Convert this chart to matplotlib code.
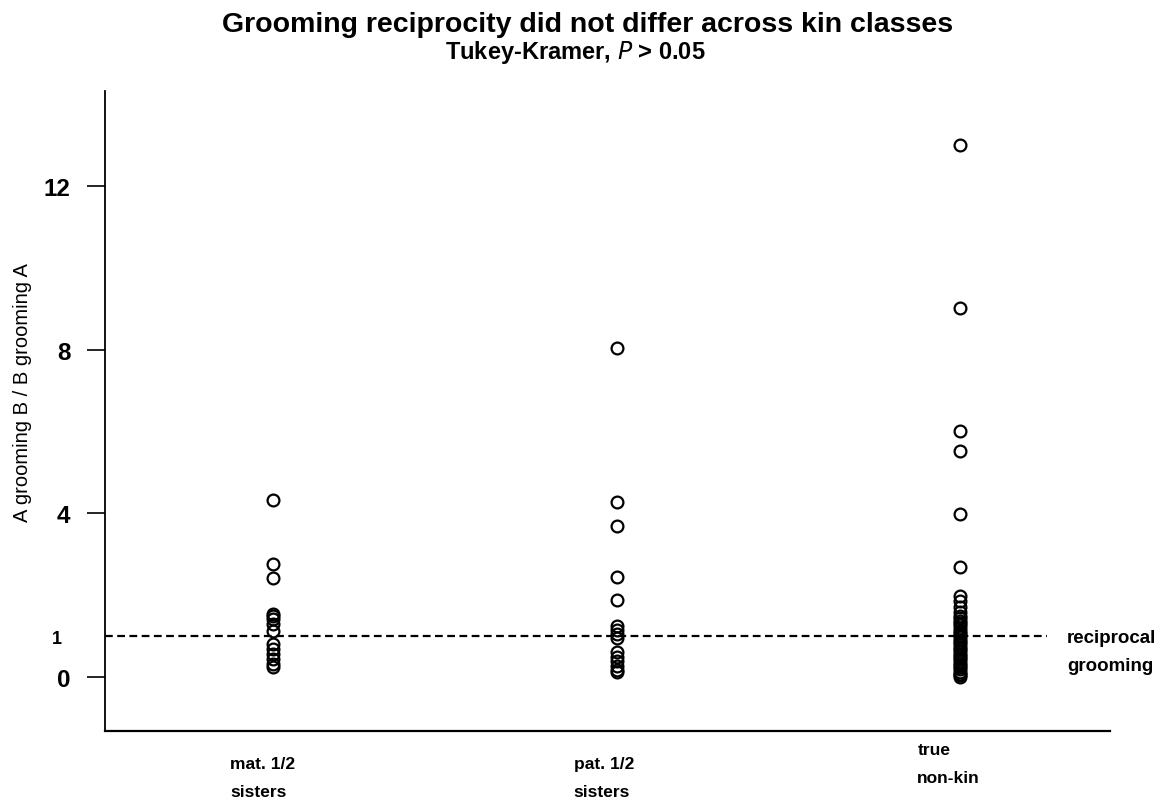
import matplotlib
matplotlib.use("Agg")
import matplotlib.pyplot as plt
import matplotlib.transforms as mtransforms

plt.rcParams['font.family'] = ['Liberation Sans', 'DejaVu Sans']

# kin classes and their x labels
classes = ["mat", "pat", "true"]
class_labels = ["mat. 1/2\nsisters", "pat. 1/2\nsisters", "true\nnon-kin"]

# ratio A grooming B / B grooming A for each dyad
mat_vals = [4.33, 2.76, 2.42, 1.55, 1.49, 1.42, 1.30, 1.12, 0.81, 0.68,
            0.56, 0.44, 0.32, 0.24]
pat_vals = [8.04, 4.28, 3.69, 2.44, 1.88, 1.25, 1.15, 1.05, 0.95, 0.62,
            0.48, 0.38, 0.28, 0.18, 0.12]
true_vals = [13.0, 9.02, 6.01, 5.53, 3.99, 2.69, 1.98, 1.85, 1.72, 1.60,
             1.50, 1.44, 1.38, 1.31, 1.26, 1.19, 1.13, 1.07, 1.02, 0.97,
             0.91, 0.86, 0.80, 0.74, 0.69, 0.63, 0.57, 0.52, 0.46, 0.41,
             0.35, 0.30, 0.24, 0.19, 0.13, 0.08, 0.04, 0.01]
groups = [mat_vals, pat_vals, true_vals]

fig = plt.figure(figsize=(11.76, 8.03), dpi=100)
ax = fig.add_axes([0.0893, 0.0884, 0.855, 0.797])

for i, vals in enumerate(groups):
    ax.plot([i + 1] * len(vals), vals, 'o', mfc='none', mec='black',
            ms=8.5, mew=1.6, ls='none', zorder=3)

# reciprocal grooming reference line
ax.hlines(1, 0.511, 3.253, colors='black', linestyles=(0, (3.5, 2)), lw=1.6, zorder=2)

ax.set_xlim(0.511, 3.437)
ax.set_ylim(-1.32, 14.32)

ax.set_yticks([0, 4, 8, 12])
ax.set_yticklabels(['0', '4', '8', '12'], fontsize=17.5, fontweight='bold')
ax.set_yticks([1], minor=True)
ax.set_yticklabels(['1'], minor=True, fontsize=13, fontweight='bold')
ax.tick_params(axis='y', which='major', direction='out', length=13, width=1.2, pad=12)
ax.tick_params(axis='y', which='minor', length=0, pad=31)
ax.set_xticks([])

for side in ['top', 'right']:
    ax.spines[side].set_visible(False)
ax.spines['left'].set_linewidth(1.3)
ax.spines['bottom'].set_linewidth(1.6)

ax.set_ylabel('A grooming B / B grooming A', fontsize=14.5)
ax.yaxis.set_label_coords(-0.073, 0.53)

# category labels under the axis
trans = mtransforms.blended_transform_factory(ax.transData, fig.transFigure)
offsets = [0, 0, 14]
for i, lab in enumerate(class_labels):
    ax.text(i + 1 - 0.125, 1 - (757 - offsets[i]) / 803, lab, transform=trans,
            ha='left', va='top', fontsize=12.5, fontweight='bold', linespacing=2.05)

ax.text(3.31, 1.18, 'reciprocal\ngrooming', ha='left', va='top', fontsize=13.5,
        fontweight='bold', linespacing=1.85, transform=ax.transData)

fig.text(0.5, 1 - 25 / 803, 'Grooming reciprocity did not differ across kin classes',
         ha='center', va='center', fontsize=20.5, fontweight='bold')
fig.text(575 / 1176, 1 - 52 / 803, 'Tukey-Kramer, $\\mathbf{\\it{P}}$ > 0.05', ha='center',
         va='center', fontsize=17, fontweight='bold')

fig.savefig('out.png', dpi=100)
